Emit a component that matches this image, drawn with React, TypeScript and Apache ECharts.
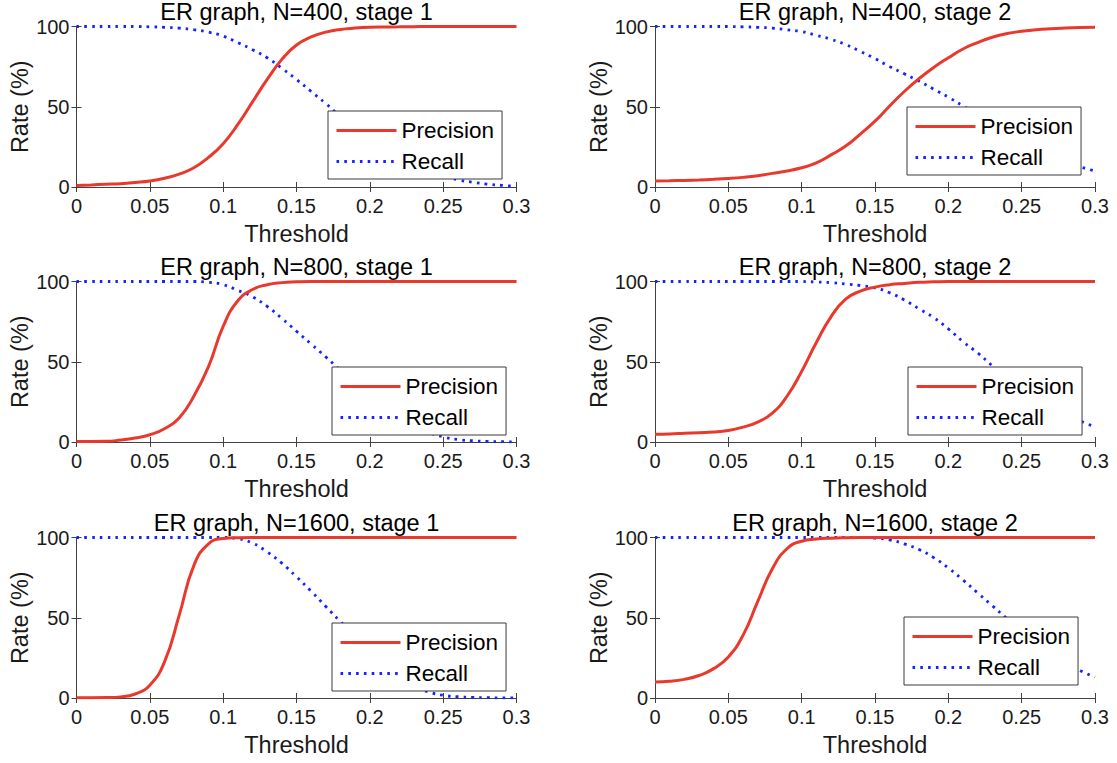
import React, { useEffect, useRef } from "react";
import * as echarts from "echarts";

// Threshold values (x axis)
const thresholds = [
  0, 0.01, 0.02, 0.03, 0.04, 0.05, 0.06, 0.07, 0.08, 0.09, 0.1, 0.11, 0.12, 0.13, 0.14, 0.15,
  0.16, 0.17, 0.18, 0.19, 0.2, 0.21, 0.22, 0.23, 0.24, 0.25, 0.26, 0.27, 0.28, 0.29, 0.3,
];

const xTicks = [0, 0.05, 0.1, 0.15, 0.2, 0.25, 0.3];
const yTicks = [0, 50, 100];

const titles = [
  "ER graph, N=400, stage 1",
  "ER graph, N=400, stage 2",
  "ER graph, N=800, stage 1",
  "ER graph, N=800, stage 2",
  "ER graph, N=1600, stage 1",
  "ER graph, N=1600, stage 2",
];

const seriesNames = ["Precision", "Recall"];

const precision400s1 = [1.0, 1.3, 1.7, 2.1, 2.8, 3.7, 5.5, 8, 12, 18.5, 27, 39, 53, 67, 79.5, 88.5, 93.5, 96.5, 98.2, 99, 99.5, 99.7, 99.8, 99.9, 100, 100, 100, 100, 100, 100, 100];
const recall400s1 = [100, 100, 100, 100, 100, 99.8, 99.5, 99, 98, 96.5, 94, 90, 85.5, 80.5, 74, 67, 59.5, 52, 44, 37, 30, 24, 18.5, 14, 10, 7, 4.5, 3, 1.8, 1, 0.5];

const precision400s2 = [3.8, 3.9, 4.1, 4.4, 4.8, 5.3, 6.0, 7.0, 8.5, 10, 12, 15, 20, 25.5, 33, 41, 50.5, 59.5, 67.5, 74.5, 80.5, 86, 90, 93.3, 95.6, 97, 98, 98.6, 99, 99.3, 99.5];
const recall400s2 = [100, 100, 100, 100, 100, 100, 99.8, 99.5, 99, 98, 96.8, 94.5, 92, 88.8, 84.5, 80, 75, 70.5, 66, 61, 56, 50.5, 45, 39.5, 34, 29, 24.5, 20, 16, 12.5, 10];

const precision800s1 = [0.3, 0.3, 0.4, 1.2, 2.5, 4.5, 8.3, 15, 28.5, 47, 72, 88, 95, 98, 99.3, 99.8, 100, 100, 100, 100, 100, 100, 100, 100, 100, 100, 100, 100, 100, 100, 100];
const recall800s1 = [100, 100, 100, 100, 100, 100, 100, 100, 100, 99.5, 98, 94.5, 90.5, 84.5, 77, 69, 61, 53, 44.5, 36, 28.5, 21.5, 15, 10, 6, 3.2, 1.5, 0.8, 0.4, 0.2, 0.1];

const precision800s2 = [4.8, 5.0, 5.4, 5.8, 6.2, 7.2, 9.3, 12.4, 18, 28.5, 44, 62, 78, 89, 94, 96.5, 98, 98.8, 99.5, 99.8, 100, 100, 100, 100, 100, 100, 100, 100, 100, 100, 100];
const recall800s2 = [100, 100, 100, 100, 100, 100, 100, 100, 100, 100, 100, 99.7, 99.3, 98.5, 97.5, 96, 93, 88.5, 83, 77.5, 70.5, 62.5, 55.5, 47.5, 40, 33, 27, 21.5, 17, 13, 9.5];

const precision1600s1 = [0.2, 0.2, 0.3, 0.7, 2.5, 8, 22.5, 51.5, 82.5, 96, 99.4, 99.9, 100, 100, 100, 100, 100, 100, 100, 100, 100, 100, 100, 100, 100, 100, 100, 100, 100, 100, 100];
const recall1600s1 = [100, 100, 100, 100, 100, 100, 100, 100, 100, 100, 100, 99.3, 96.5, 91, 84, 75.5, 66.5, 57, 47.5, 38.5, 29.5, 21, 13.5, 7.5, 3.8, 1.7, 0.8, 0.4, 0.2, 0.1, 0];

const precision1600s2 = [10, 10.4, 11.6, 14, 18.3, 25.6, 39, 60, 80.5, 93, 97.7, 99, 99.6, 99.9, 100, 100, 100, 100, 100, 100, 100, 100, 100, 100, 100, 100, 100, 100, 100, 100, 100];
const recall1600s2 = [100, 100, 100, 100, 100, 100, 100, 100, 100, 100, 100, 100, 100, 100, 100, 99.6, 98.5, 96, 92.5, 87.5, 81, 73.5, 65.5, 57.5, 49.5, 42, 35, 28, 22, 17, 13];

const precisionSets = [precision400s1, precision400s2, precision800s1, precision800s2, precision1600s1, precision1600s2];
const recallSets = [recall400s1, recall400s2, recall800s1, recall800s2, recall1600s1, recall1600s2];

// Layout (positions / sizes)
const colLeft = [76.5, 655];
const rowTop = [26.5, 281.5, 537.5];
const plotW = 440;
const plotH = 160.5;
const legendPos = [
  [328, 111],
  [907, 107],
  [332, 367],
  [908, 367],
  [332, 623],
  [904, 617],
];

const FONT = "'Liberation Sans', Arial, Helvetica, sans-serif";
const AXIS_COLOR = "#404040";
const TEXT_COLOR = "#1a1a1a";
const RED = "#e8392c";
const BLUE = "#1423ff";

export default function App() {
  const ref = useRef<HTMLDivElement>(null);

  useEffect(() => {
    if (!ref.current) return;
    const chart = echarts.init(ref.current, undefined, { renderer: "svg" });

    const grid: any[] = [];
    const xAxis: any[] = [];
    const yAxis: any[] = [];
    const series: any[] = [];
    const title: any[] = [];
    const legend: any[] = [];

    for (let i = 0; i < 6; i++) {
      const col = i % 2;
      const row = Math.floor(i / 2);
      const left = colLeft[col];
      const top = rowTop[row];
      grid.push({ left, top, width: plotW, height: plotH, outerBoundsMode: "none", containLabel: false });

      title.push({
        text: titles[i],
        left: left + plotW / 2,
        top: top - 27,
        textAlign: "center",
        padding: 0,
        textStyle: { fontFamily: FONT, fontSize: 23.5, fontWeight: "normal", color: "#000" },
      });

      const axLine = { show: true, lineStyle: { color: AXIS_COLOR, width: 1 } };
      const axTick = { show: true, inside: true, length: 5, lineStyle: { color: AXIS_COLOR, width: 1 } };

      // bottom x axis
      xAxis.push({
        type: "value",
        gridIndex: i,
        position: "bottom",
        min: xTicks[0],
        max: xTicks[xTicks.length - 1],
        interval: 0.05,
        axisLine: axLine,
        axisTick: axTick,
        splitLine: { show: false },
        axisLabel: { fontFamily: FONT, fontSize: 20, color: TEXT_COLOR, margin: 9 },
        name: "Threshold",
        nameLocation: "middle",
        nameGap: 35,
        nameTextStyle: { fontFamily: FONT, fontSize: 23.5, color: TEXT_COLOR },
      });
      // top x axis (ticks only)
      xAxis.push({
        type: "value",
        gridIndex: i,
        position: "top",
        min: xTicks[0],
        max: xTicks[xTicks.length - 1],
        interval: 0.05,
        axisLine: axLine,
        axisTick: axTick,
        splitLine: { show: false },
        axisLabel: { show: false },
      });
      // left y axis
      yAxis.push({
        type: "value",
        gridIndex: i,
        position: "left",
        min: yTicks[0],
        max: yTicks[yTicks.length - 1],
        interval: 50,
        axisLine: axLine,
        axisTick: axTick,
        splitLine: { show: false },
        axisLabel: { fontFamily: FONT, fontSize: 20, color: TEXT_COLOR, margin: 7 },
        name: "Rate (%)",
        nameLocation: "middle",
        nameGap: 44,
        nameTextStyle: { fontFamily: FONT, fontSize: 23.5, color: TEXT_COLOR },
      });
      // right y axis (ticks only)
      yAxis.push({
        type: "value",
        gridIndex: i,
        position: "right",
        min: yTicks[0],
        max: yTicks[yTicks.length - 1],
        interval: 50,
        axisLine: axLine,
        axisTick: axTick,
        splitLine: { show: false },
        axisLabel: { show: false },
      });

      series.push({
        name: seriesNames[0],
        type: "line",
        xAxisIndex: i * 2,
        yAxisIndex: i * 2,
        data: thresholds.map((t, k) => [t, precisionSets[i][k]]),
        showSymbol: false,
        symbol: "none",
        smooth: 0.5,
        lineStyle: { color: RED, width: 3 },
        itemStyle: { color: RED },
        z: 3,
      });
      series.push({
        name: seriesNames[1],
        type: "line",
        xAxisIndex: i * 2,
        yAxisIndex: i * 2,
        data: thresholds.map((t, k) => [t, recallSets[i][k]]),
        showSymbol: false,
        symbol: "none",
        smooth: 0.5,
        lineStyle: { color: BLUE, width: 2.8, type: [2.6, 5.2] },
        itemStyle: { color: BLUE },
        z: 2,
      });

      legend.push({
        orient: "vertical",
        left: legendPos[i][0],
        top: legendPos[i][1],
        itemWidth: 60,
        itemHeight: 22,
        itemGap: 8,
        padding: [8, 8, 6, 7],
        backgroundColor: "#ffffff",
        borderColor: "#3a3a3a",
        borderWidth: 1,
        borderRadius: 0,
        selectedMode: false,
        data: seriesNames,
        lineStyle: { width: 3 },
        itemStyle: { color: "rgba(0,0,0,0)", borderWidth: 0, opacity: 0 },
        textStyle: { fontFamily: FONT, fontSize: 22.5, color: "#000" },
        z: 10,
      });
    }

    chart.setOption({
      animation: false,
      backgroundColor: "#ffffff",
      title,
      legend,
      grid,
      xAxis,
      yAxis,
      series,
    });

    return () => chart.dispose();
  }, []);

  return (
    <div
      ref={ref}
      style={{ position: "fixed", left: 0, top: 0, width: 1117, height: 763 }}
    />
  );
}
